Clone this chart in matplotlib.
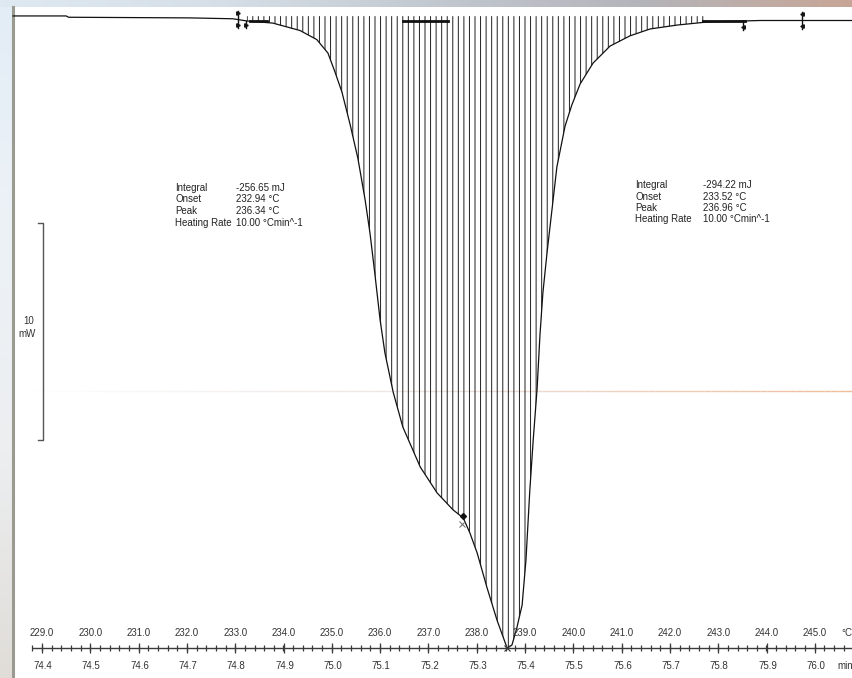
import numpy as np
import matplotlib.pyplot as plt
import matplotlib.transforms as mtransforms
from matplotlib.collections import LineCollection
from matplotlib.colors import LinearSegmentedColormap, to_rgb

plt.rcParams['font.family'] = ['Liberation Sans', 'DejaVu Sans']
plt.rcParams['hatch.linewidth'] = 0.7

W, H = 852, 678

# DSC trace: temperature (degC) and heat flow relative to baseline (mW)
temp = [228.40, 229.50, 229.55, 232.06, 232.95, 233.24, 233.78, 234.34, 234.69, 234.92,
        235.07, 235.21, 235.38, 235.54, 235.69, 235.79, 235.89, 236.00, 236.10, 236.27,
        236.47, 236.83, 237.18, 237.51, 237.72, 237.86, 238.01, 238.21, 238.42, 238.63,
        238.73, 238.83, 238.94, 239.02, 239.10, 239.17, 239.25, 239.31, 239.37, 239.46,
        239.56, 239.66, 239.83, 239.97, 240.14, 240.41, 240.76, 241.17, 241.59, 242.15,
        242.77, 243.87, 245.77]
heatflow = [0.21, 0.21, 0.15, 0.12, 0.08, -0.02, -0.12, -0.46, -0.88, -1.50,
            -2.40, -3.30, -4.80, -6.35, -8.27, -9.79, -11.64, -13.80, -15.32, -17.12,
            -18.73, -20.57, -21.77, -22.55, -22.92, -23.62, -24.54, -26.11, -27.63, -28.92,
            -28.78, -28.00, -26.94, -24.86, -21.64, -19.33, -16.98, -14.49, -12.56, -10.62,
            -8.69, -6.75, -4.86, -3.89, -2.93, -1.96, -1.18, -0.71, -0.39, -0.21,
            -0.07, 0.0, 0.0]

# integration range (hatched) and limit marks
integ_start = 233.24
integ_end = 242.77
limit_marks = [233.06, 233.22, 243.51, 244.73]
baseline_segs = [(233.31, 233.66), (236.47, 237.41), (242.69, 243.55)]
shoulder = (237.72, -22.83)
peak_min = (238.63, -28.92)

temp_ticks = [229.0, 230.0, 231.0, 232.0, 233.0, 234.0, 235.0, 236.0, 237.0,
              238.0, 239.0, 240.0, 241.0, 242.0, 243.0, 244.0, 245.0]
time_labels = ['74.4', '74.5', '74.6', '74.7', '74.8', '74.9', '75.0', '75.1', '75.2',
               '75.3', '75.4', '75.5', '75.6', '75.7', '75.8', '75.9', '76.0']

info_keys = ['Integral', 'Onset', 'Peak', 'Heating Rate']
info_left = ['-256.65 mJ', '232.94 °C', '236.34 °C', '10.00 °Cmin^-1']
info_right = ['-294.22 mJ', '233.52 °C', '236.96 °C', '10.00 °Cmin^-1']

scale_mw = 10

fig = plt.figure(figsize=(W / 100, H / 100), dpi=100)
fig.patch.set_facecolor('white')

# pixel-space layer for the screenshot decorations
deco = fig.add_axes([0, 0, 1, 1])
top_cmap = LinearSegmentedColormap.from_list(
    'top', ['#dfe9f2', '#d6dfe8', '#c3c9d0', '#b3b5ba', '#c8a596'])
deco.imshow(np.linspace(0, 1, 256)[None, :], cmap=top_cmap,
            extent=(0, W, 7, 0), aspect='auto')
side_cmap = LinearSegmentedColormap.from_list(
    'side', ['#e3edf6', '#edf2f7', '#eceef0', '#e0ddd8'])
deco.imshow(np.linspace(0, 1, 256)[:, None], cmap=side_cmap,
            extent=(0, 11.5, H, 7), aspect='auto')
deco.plot([12.5, 12.5], [7, H], color='#9a9a90', lw=2.2)

# faint horizontal line across the slide
xs = np.linspace(13, W, 120)
segs = [[(xs[i], 391), (xs[i + 1], 391)] for i in range(len(xs) - 1)]
c0, c1, c2 = np.array(to_rgb('#ffffff')), np.array(to_rgb('#ebe2de')), np.array(to_rgb('#f0bc98'))
cols = []
for f in np.linspace(0, 1, len(segs)):
    cols.append(c0 + (c1 - c0) * f / 0.5 if f < 0.5 else c1 + (c2 - c1) * (f - 0.5) / 0.5)
deco.add_collection(LineCollection(segs, colors=cols, lw=1, zorder=1))

# info blocks
for i, key in enumerate(info_keys):
    deco.text(175, 188 + i * 11.5, key, fontsize=7, va='center', color='#222222')
    deco.text(236, 188 + i * 11.5, info_left[i], fontsize=7, va='center', color='#222222')
    deco.text(635, 185 + i * 11.5, key, fontsize=7, va='center', color='#222222')
    deco.text(703, 185 + i * 11.5, info_right[i], fontsize=7, va='center', color='#222222')

deco.text(841, 633, '°C', fontsize=7, va='center', color='#333333')
deco.text(837, 666, 'min', fontsize=7, va='center', color='#333333')

deco.set_xlim(0, W)
deco.set_ylim(H, 0)
deco.axis('off')

# data layer: px x = 42 + (T - 229) * 48.3, px y = 20.5 - mW * 21.7
ax = fig.add_axes([0, 0, 1, 1])
ax.set_xlim(229 - 42 / 48.3, 229 + (W - 42) / 48.3)
ax.set_ylim(-(H - 20.5) / 21.7, 20.5 / 21.7)
ax.axis('off')

t = np.array(temp)
q = np.array(heatflow)
m = (t >= integ_start) & (t <= integ_end)
ax.fill_between(t[m], q[m], 0.2, facecolor='none', edgecolor='#1e1e1e',
                hatch='|||', linewidth=0)
ax.plot(t, q, color='#111111', lw=0.9)

for a, b in baseline_segs:
    ax.plot([a, b], [0.0, 0.0], color='#111111', lw=2)

# integration limit marks
ax.plot([limit_marks[0]] * 2, [0.45, -0.35], color='#111111', lw=1)
ax.plot([limit_marks[0]] * 2, [0.35, -0.22], '>', color='#111111', ms=2.5, ls='none')
ax.plot([limit_marks[1]] * 2, [0.0, -0.35], color='#111111', lw=1)
ax.plot([limit_marks[1]], [-0.22], '>', color='#111111', ms=2.5)
ax.plot([limit_marks[2]] * 2, [0.0, -0.42], color='#111111', lw=1)
ax.plot([limit_marks[2]], [-0.3], '<', color='#111111', ms=2.5)
ax.plot([limit_marks[3]] * 2, [0.4, -0.38], color='#111111', lw=1)
ax.plot([limit_marks[3]] * 2, [0.3, -0.27], '<', color='#111111', ms=2.5, ls='none')

ax.plot(*shoulder, 'D', color='#111111', ms=3)
ax.plot(shoulder[0] - 0.02, shoulder[1] - 0.35, 'x', color='#777777', ms=4, mew=0.8)
ax.plot(*peak_min, 'x', color='#333333', ms=5, mew=0.8)

# 10 mW scale bar
sb_x = 229.02
sb_top = -9.33
ax.plot([sb_x - 0.1, sb_x, sb_x, sb_x - 0.1],
        [sb_top, sb_top, sb_top - scale_mw, sb_top - scale_mw], color='#555555', lw=1)
ax.text(sb_x - 0.18, sb_top - scale_mw * 0.45, '10', fontsize=7, ha='right', va='center', color='#333333')
ax.text(sb_x - 0.15, sb_top - scale_mw * 0.51, 'mW', fontsize=7, ha='right', va='center', color='#333333')

# temperature / time axis
trans = mtransforms.blended_transform_factory(ax.transData, ax.transAxes)
y_axis = 1 - 648 / H
ax.plot([228.81, ax.get_xlim()[1]], [y_axis, y_axis], transform=trans, color='#3a3a3a', lw=1)
minor = np.arange(228.8, 245.9, 0.2)
ax.vlines(minor, y_axis - 0.0045, y_axis + 0.0045, transform=trans, color='#3a3a3a', lw=0.9)
ax.vlines(temp_ticks, y_axis - 0.0075, y_axis + 0.0075, transform=trans, color='#3a3a3a', lw=0.9)
for T, lab in zip(temp_ticks, time_labels):
    ax.text(T, 1 - 633 / H, f'{T:.1f}', transform=trans, fontsize=7, ha='center', va='center', color='#333333')
    ax.text(T + 0.02, 1 - 666 / H, lab, transform=trans, fontsize=7, ha='center', va='center', color='#333333')

fig.savefig('out.png', dpi=100)
